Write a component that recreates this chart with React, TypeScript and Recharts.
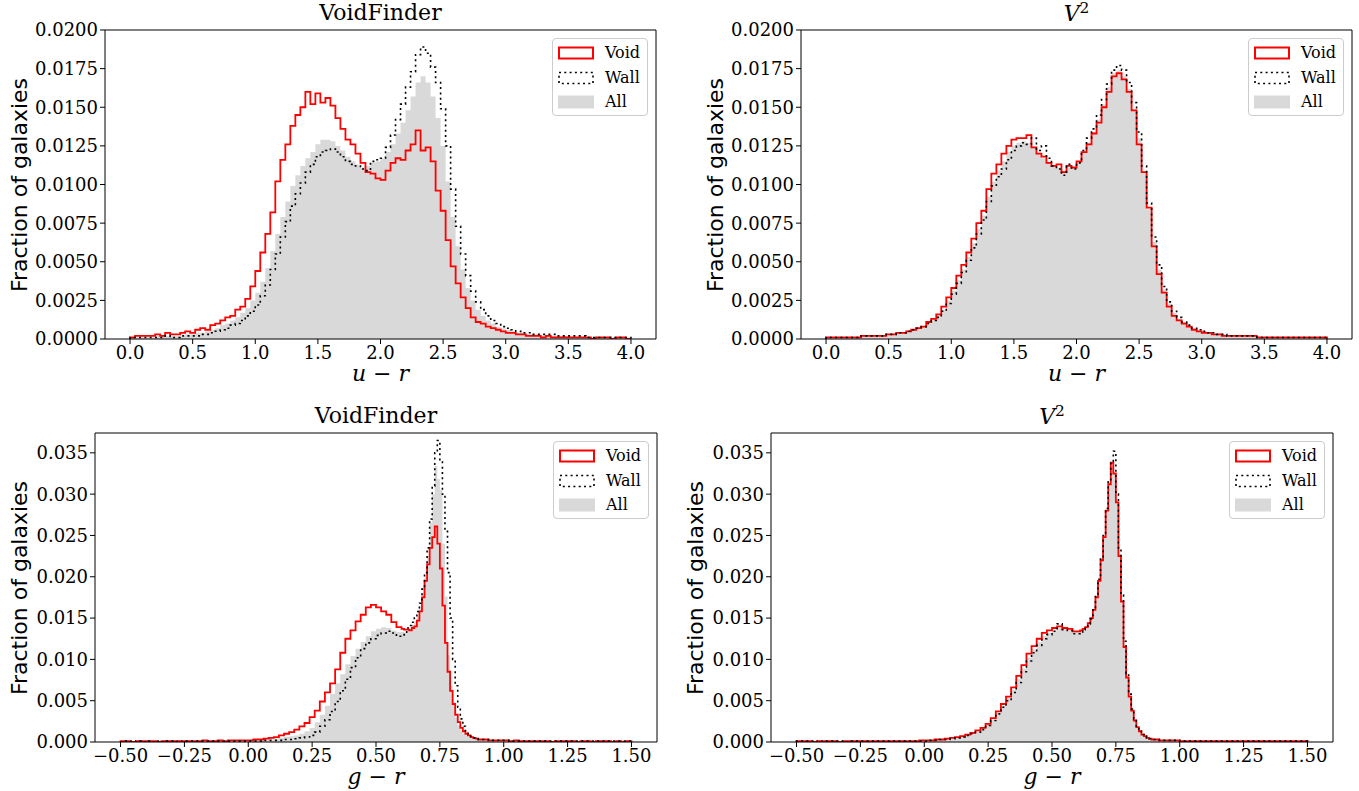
import React from 'react';
import { ComposedChart, Area, Line, XAxis, YAxis, ReferenceLine } from 'recharts';

// ---------- bins ----------
// u - r : uniform bins
const UR_BIN_START = 0;
const UR_BIN_WIDTH = 0.04;
const UR_BIN_COUNT = 100;
// g - r : finer bins around the red-sequence peak
const GR_BIN_SEGMENTS = [
  { start: -0.5, width: 0.02, count: 55 },
  { start: 0.6, width: 0.01, count: 30 },
  { start: 0.9, width: 0.02, count: 30 },
];

// ---------- tick labels ----------
const urTicks = [0, 0.5, 1, 1.5, 2, 2.5, 3, 3.5, 4];
const grTicks = [-0.5, -0.25, 0, 0.25, 0.5, 0.75, 1, 1.25, 1.5];
const yTicksUR = [0, 0.0025, 0.005, 0.0075, 0.01, 0.0125, 0.015, 0.0175, 0.02];
const yTicksGR = [0, 0.005, 0.01, 0.015, 0.02, 0.025, 0.03, 0.035];

// ---------- VoidFinder, u - r ----------
const vfUrVoid = [
  0.0001, 0.0002, 0.0002, 0.0002, 0.0002, 0.0003, 0.0002, 0.0004, 0.0003, 0.0003,
  0.0004, 0.0005, 0.0004, 0.0006, 0.0007, 0.0006, 0.0009, 0.0010, 0.0012, 0.0014,
  0.0015, 0.0019, 0.0021, 0.0026, 0.0034, 0.0044, 0.0056, 0.0068, 0.0082, 0.0102,
  0.0116, 0.0126, 0.0138, 0.0145, 0.0150, 0.0160, 0.0152, 0.0159, 0.0153, 0.0156,
  0.0151, 0.0143, 0.0136, 0.0129, 0.0126, 0.0120, 0.0114, 0.0108, 0.0107, 0.0104,
  0.0103, 0.0109, 0.0114, 0.0117, 0.0116, 0.0122, 0.0126, 0.0135, 0.0122, 0.0124,
  0.0115, 0.0096, 0.0083, 0.0064, 0.0047, 0.0036, 0.0027, 0.0020, 0.0014, 0.0011,
  0.0010, 0.0008, 0.0007, 0.0006, 0.0005, 0.0004, 0.0004, 0.0003, 0.0003, 0.0002,
  0.0002, 0.0002, 0.0001, 0.0002, 0.0001, 0.0001, 0.0001, 0.0001, 0.0001, 0.0001,
  0.0001, 0.0001, 0.0000, 0.0001, 0.0001, 0.0001, 0.0000, 0.0001, 0.0001, 0.0000,
];
const vfUrWall = [
  0.0001, 0.0001, 0.0001, 0.0001, 0.0001, 0.0001, 0.0001, 0.0002, 0.0001, 0.0001,
  0.0002, 0.0002, 0.0002, 0.0002, 0.0003, 0.0003, 0.0004, 0.0005, 0.0006, 0.0007,
  0.0009, 0.0010, 0.0012, 0.0015, 0.0018, 0.0022, 0.0028, 0.0035, 0.0045, 0.0055,
  0.0066, 0.0076, 0.0086, 0.0094, 0.0101, 0.0108, 0.0113, 0.0118, 0.0121, 0.0122,
  0.0123, 0.0121, 0.0118, 0.0115, 0.0113, 0.0112, 0.0110, 0.0109, 0.0115, 0.0116,
  0.0117, 0.0124, 0.0132, 0.0142, 0.0152, 0.0163, 0.0173, 0.0184, 0.0189, 0.0185,
  0.0176, 0.0166, 0.0149, 0.0125, 0.0097, 0.0073, 0.0055, 0.0041, 0.0031, 0.0024,
  0.0019, 0.0015, 0.0012, 0.0010, 0.0008, 0.0007, 0.0006, 0.0005, 0.0004, 0.0004,
  0.0003, 0.0003, 0.0003, 0.0003, 0.0003, 0.0002, 0.0002, 0.0002, 0.0002, 0.0002,
  0.0002, 0.0001, 0.0001, 0.0001, 0.0001, 0.0001, 0.0001, 0.0001, 0.0001, 0.0001,
];
const vfUrAll = [
  0.0001, 0.0001, 0.0001, 0.0001, 0.0001, 0.0002, 0.0002, 0.0002, 0.0002, 0.0002,
  0.0002, 0.0003, 0.0003, 0.0004, 0.0004, 0.0005, 0.0006, 0.0007, 0.0009, 0.0010,
  0.0012, 0.0014, 0.0017, 0.0020, 0.0025, 0.0030, 0.0037, 0.0046, 0.0057, 0.0068,
  0.0079, 0.0089, 0.0099, 0.0106, 0.0112, 0.0117, 0.0121, 0.0126, 0.0129, 0.0129,
  0.0128, 0.0125, 0.0122, 0.0118, 0.0115, 0.0113, 0.0111, 0.0112, 0.0114, 0.0115,
  0.0117, 0.0121, 0.0126, 0.0133, 0.0140, 0.0148, 0.0157, 0.0166, 0.0170, 0.0166,
  0.0157, 0.0143, 0.0125, 0.0102, 0.0079, 0.0060, 0.0045, 0.0033, 0.0025, 0.0019,
  0.0015, 0.0012, 0.0010, 0.0008, 0.0007, 0.0006, 0.0005, 0.0004, 0.0004, 0.0003,
  0.0003, 0.0003, 0.0002, 0.0002, 0.0002, 0.0002, 0.0002, 0.0002, 0.0001, 0.0001,
  0.0001, 0.0001, 0.0001, 0.0001, 0.0001, 0.0001, 0.0001, 0.0001, 0.0001, 0.0001,
];

// ---------- V^2, u - r ----------
const v2UrVoid = [
  0.0001, 0.0001, 0.0001, 0.0001, 0.0001, 0.0001, 0.0001, 0.0002, 0.0002, 0.0002,
  0.0002, 0.0002, 0.0003, 0.0003, 0.0004, 0.0004, 0.0005, 0.0006, 0.0007, 0.0008,
  0.0011, 0.0013, 0.0016, 0.0021, 0.0027, 0.0033, 0.0041, 0.0048, 0.0056, 0.0065,
  0.0075, 0.0083, 0.0097, 0.0107, 0.0113, 0.0120, 0.0125, 0.0129, 0.0130, 0.0130,
  0.0132, 0.0124, 0.0120, 0.0118, 0.0114, 0.0112, 0.0113, 0.0108, 0.0112, 0.0111,
  0.0115, 0.0121, 0.0126, 0.0133, 0.0140, 0.0150, 0.0160, 0.0170, 0.0172, 0.0168,
  0.0160, 0.0148, 0.0126, 0.0108, 0.0085, 0.0060, 0.0042, 0.0030, 0.0021, 0.0015,
  0.0012, 0.0010, 0.0008, 0.0006, 0.0005, 0.0004, 0.0004, 0.0003, 0.0003, 0.0002,
  0.0002, 0.0002, 0.0002, 0.0002, 0.0002, 0.0002, 0.0001, 0.0001, 0.0001, 0.0001,
  0.0001, 0.0001, 0.0001, 0.0001, 0.0001, 0.0001, 0.0001, 0.0001, 0.0001, 0.0001,
];
const v2UrWall = [
  0.0001, 0.0001, 0.0001, 0.0001, 0.0001, 0.0001, 0.0001, 0.0002, 0.0002, 0.0002,
  0.0002, 0.0002, 0.0003, 0.0003, 0.0004, 0.0004, 0.0005, 0.0006, 0.0007, 0.0008,
  0.0010, 0.0012, 0.0014, 0.0018, 0.0023, 0.0029, 0.0036, 0.0043, 0.0051, 0.0059,
  0.0068, 0.0077, 0.0089, 0.0099, 0.0105, 0.0110, 0.0116, 0.0122, 0.0125, 0.0127,
  0.0126, 0.0130, 0.0122, 0.0125, 0.0117, 0.0112, 0.0110, 0.0106, 0.0113, 0.0110,
  0.0114, 0.0122, 0.0130, 0.0136, 0.0145, 0.0155, 0.0165, 0.0174, 0.0177, 0.0174,
  0.0166, 0.0153, 0.0134, 0.0112, 0.0088, 0.0066, 0.0048, 0.0034, 0.0024, 0.0018,
  0.0014, 0.0011, 0.0009, 0.0007, 0.0006, 0.0005, 0.0004, 0.0004, 0.0003, 0.0003,
  0.0002, 0.0002, 0.0002, 0.0002, 0.0002, 0.0002, 0.0001, 0.0001, 0.0001, 0.0001,
  0.0001, 0.0001, 0.0001, 0.0001, 0.0001, 0.0001, 0.0001, 0.0001, 0.0001, 0.0001,
];
const v2UrAll = [
  0.0001, 0.0001, 0.0001, 0.0001, 0.0001, 0.0001, 0.0001, 0.0002, 0.0002, 0.0002,
  0.0002, 0.0002, 0.0003, 0.0003, 0.0004, 0.0004, 0.0005, 0.0006, 0.0007, 0.0008,
  0.0010, 0.0012, 0.0015, 0.0019, 0.0025, 0.0031, 0.0038, 0.0045, 0.0053, 0.0062,
  0.0071, 0.0080, 0.0092, 0.0102, 0.0109, 0.0115, 0.0121, 0.0125, 0.0127, 0.0128,
  0.0127, 0.0124, 0.0120, 0.0117, 0.0114, 0.0112, 0.0111, 0.0109, 0.0111, 0.0111,
  0.0114, 0.0121, 0.0127, 0.0134, 0.0142, 0.0152, 0.0163, 0.0172, 0.0174, 0.0170,
  0.0162, 0.0149, 0.0130, 0.0108, 0.0084, 0.0063, 0.0045, 0.0032, 0.0023, 0.0017,
  0.0013, 0.0011, 0.0008, 0.0007, 0.0005, 0.0005, 0.0004, 0.0003, 0.0003, 0.0003,
  0.0002, 0.0002, 0.0002, 0.0002, 0.0002, 0.0002, 0.0001, 0.0001, 0.0001, 0.0001,
  0.0001, 0.0001, 0.0001, 0.0001, 0.0001, 0.0001, 0.0001, 0.0001, 0.0001, 0.0001,
];

// ---------- VoidFinder, g - r (55 coarse + 30 fine + 30 coarse bins) ----------
const vfGrVoid = [
  0.0001, 0.0001, 0.0000, 0.0001, 0.0001, 0.0001, 0.0001, 0.0000, 0.0001, 0.0001,
  0.0001, 0.0001, 0.0001, 0.0001, 0.0001, 0.0001, 0.0002, 0.0001, 0.0001, 0.0002,
  0.0001, 0.0002, 0.0002, 0.0002, 0.0002, 0.0002, 0.0003, 0.0003, 0.0004, 0.0005,
  0.0006, 0.0008, 0.0010, 0.0012, 0.0015, 0.0019, 0.0023, 0.0030, 0.0038, 0.0049,
  0.0060, 0.0071, 0.0088, 0.0108, 0.0125, 0.0135, 0.0146, 0.0154, 0.0163, 0.0166,
  0.0163, 0.0158, 0.0154, 0.0145, 0.0139,
  0.0137, 0.0136, 0.0136, 0.0135, 0.0138, 0.0140, 0.0147, 0.0158, 0.0175, 0.0195,
  0.0215, 0.0235, 0.0248, 0.0261, 0.0240, 0.0210, 0.0165, 0.0120, 0.0085, 0.0062,
  0.0046, 0.0033, 0.0024, 0.0017, 0.0013, 0.0010, 0.0008, 0.0006, 0.0005, 0.0004,
  0.0003, 0.0003, 0.0002, 0.0002, 0.0002, 0.0002, 0.0001, 0.0002, 0.0001, 0.0001,
  0.0001, 0.0001, 0.0001, 0.0001, 0.0000, 0.0001, 0.0001, 0.0001, 0.0001, 0.0000,
  0.0001, 0.0001, 0.0000, 0.0001, 0.0001, 0.0001, 0.0000, 0.0001, 0.0000, 0.0001,
];
const vfGrWall = [
  0.0000, 0.0001, 0.0000, 0.0001, 0.0000, 0.0001, 0.0000, 0.0001, 0.0000, 0.0001,
  0.0001, 0.0000, 0.0001, 0.0001, 0.0001, 0.0001, 0.0001, 0.0001, 0.0001, 0.0001,
  0.0001, 0.0001, 0.0001, 0.0001, 0.0001, 0.0001, 0.0001, 0.0001, 0.0002, 0.0002,
  0.0002, 0.0002, 0.0003, 0.0003, 0.0004, 0.0005, 0.0006, 0.0008, 0.0012, 0.0019,
  0.0027, 0.0037, 0.0049, 0.0062, 0.0076, 0.0090, 0.0102, 0.0113, 0.0120, 0.0125,
  0.0129, 0.0132, 0.0134, 0.0132, 0.0128,
  0.0128, 0.0130, 0.0138, 0.0141, 0.0145, 0.0150, 0.0158, 0.0168, 0.0185, 0.0205,
  0.0235, 0.0270, 0.0310, 0.0350, 0.0365, 0.0340, 0.0300, 0.0255, 0.0205, 0.0150,
  0.0100, 0.0068, 0.0042, 0.0028, 0.0019, 0.0013, 0.0009, 0.0007, 0.0005, 0.0004,
  0.0003, 0.0003, 0.0002, 0.0002, 0.0002, 0.0002, 0.0001, 0.0001, 0.0001, 0.0001,
  0.0001, 0.0001, 0.0001, 0.0001, 0.0001, 0.0001, 0.0001, 0.0001, 0.0001, 0.0001,
  0.0001, 0.0001, 0.0001, 0.0001, 0.0001, 0.0001, 0.0001, 0.0001, 0.0001, 0.0001,
];
const vfGrAll = [
  0.0001, 0.0000, 0.0001, 0.0000, 0.0001, 0.0001, 0.0000, 0.0001, 0.0001, 0.0001,
  0.0001, 0.0001, 0.0001, 0.0001, 0.0001, 0.0001, 0.0001, 0.0001, 0.0001, 0.0001,
  0.0001, 0.0001, 0.0001, 0.0001, 0.0001, 0.0001, 0.0002, 0.0002, 0.0003, 0.0003,
  0.0004, 0.0005, 0.0006, 0.0007, 0.0008, 0.0010, 0.0013, 0.0017, 0.0024, 0.0033,
  0.0044, 0.0058, 0.0071, 0.0082, 0.0094, 0.0104, 0.0113, 0.0121, 0.0128, 0.0134,
  0.0137, 0.0139, 0.0138, 0.0135, 0.0133,
  0.0133, 0.0132, 0.0134, 0.0137, 0.0141, 0.0146, 0.0152, 0.0162, 0.0180, 0.0200,
  0.0225, 0.0265, 0.0300, 0.0334, 0.0318, 0.0305, 0.0240, 0.0176, 0.0105, 0.0068,
  0.0045, 0.0030, 0.0020, 0.0014, 0.0010, 0.0008, 0.0006, 0.0005, 0.0004, 0.0003,
  0.0003, 0.0003, 0.0002, 0.0002, 0.0002, 0.0001, 0.0001, 0.0001, 0.0001, 0.0001,
  0.0001, 0.0001, 0.0001, 0.0001, 0.0001, 0.0001, 0.0001, 0.0001, 0.0001, 0.0001,
  0.0001, 0.0000, 0.0001, 0.0001, 0.0000, 0.0001, 0.0001, 0.0000, 0.0001, 0.0000,
];

// ---------- V^2, g - r (55 coarse + 30 fine + 30 coarse bins) ----------
const v2GrVoid = [
  0.0001, 0.0001, 0.0001, 0.0000, 0.0001, 0.0001, 0.0001, 0.0001, 0.0000, 0.0001,
  0.0001, 0.0001, 0.0001, 0.0001, 0.0001, 0.0001, 0.0001, 0.0001, 0.0001, 0.0001,
  0.0001, 0.0001, 0.0001, 0.0001, 0.0002, 0.0002, 0.0002, 0.0003, 0.0003, 0.0004,
  0.0005, 0.0006, 0.0007, 0.0009, 0.0011, 0.0014, 0.0017, 0.0022, 0.0029, 0.0037,
  0.0046, 0.0055, 0.0066, 0.0080, 0.0093, 0.0107, 0.0116, 0.0125, 0.0132, 0.0135,
  0.0138, 0.0140, 0.0138, 0.0137, 0.0134,
  0.0134, 0.0135, 0.0137, 0.0139, 0.0144, 0.0150, 0.0160, 0.0175, 0.0195, 0.0220,
  0.0248, 0.0280, 0.0312, 0.0338, 0.0325, 0.0290, 0.0225, 0.0170, 0.0115, 0.0078,
  0.0055, 0.0038, 0.0026, 0.0018, 0.0013, 0.0009, 0.0007, 0.0005, 0.0004, 0.0003,
  0.0003, 0.0002, 0.0002, 0.0002, 0.0002, 0.0001, 0.0001, 0.0001, 0.0001, 0.0001,
  0.0001, 0.0001, 0.0001, 0.0001, 0.0001, 0.0001, 0.0001, 0.0001, 0.0001, 0.0001,
  0.0001, 0.0001, 0.0001, 0.0001, 0.0001, 0.0001, 0.0001, 0.0001, 0.0001, 0.0001,
];
const v2GrWall = [
  0.0001, 0.0001, 0.0001, 0.0001, 0.0000, 0.0001, 0.0001, 0.0001, 0.0001, 0.0000,
  0.0001, 0.0001, 0.0001, 0.0001, 0.0001, 0.0001, 0.0001, 0.0001, 0.0001, 0.0001,
  0.0001, 0.0001, 0.0001, 0.0001, 0.0001, 0.0001, 0.0002, 0.0002, 0.0003, 0.0003,
  0.0004, 0.0005, 0.0006, 0.0008, 0.0010, 0.0012, 0.0015, 0.0020, 0.0026, 0.0034,
  0.0042, 0.0050, 0.0060, 0.0072, 0.0085, 0.0098, 0.0108, 0.0117, 0.0125, 0.0130,
  0.0134, 0.0143, 0.0136, 0.0135, 0.0131,
  0.0131, 0.0133, 0.0136, 0.0138, 0.0143, 0.0149, 0.0160, 0.0176, 0.0197, 0.0223,
  0.0250, 0.0283, 0.0315, 0.0340, 0.0352, 0.0300, 0.0235, 0.0178, 0.0122, 0.0083,
  0.0058, 0.0040, 0.0028, 0.0019, 0.0013, 0.0009, 0.0007, 0.0005, 0.0004, 0.0003,
  0.0003, 0.0002, 0.0002, 0.0002, 0.0002, 0.0001, 0.0001, 0.0001, 0.0001, 0.0001,
  0.0001, 0.0001, 0.0001, 0.0001, 0.0001, 0.0001, 0.0001, 0.0001, 0.0001, 0.0001,
  0.0001, 0.0001, 0.0001, 0.0001, 0.0001, 0.0001, 0.0001, 0.0001, 0.0001, 0.0001,
];
const v2GrAll = [
  0.0001, 0.0001, 0.0001, 0.0001, 0.0001, 0.0001, 0.0001, 0.0001, 0.0001, 0.0001,
  0.0001, 0.0001, 0.0001, 0.0001, 0.0001, 0.0001, 0.0001, 0.0001, 0.0001, 0.0001,
  0.0001, 0.0001, 0.0001, 0.0001, 0.0001, 0.0002, 0.0002, 0.0003, 0.0003, 0.0004,
  0.0005, 0.0006, 0.0007, 0.0009, 0.0011, 0.0013, 0.0016, 0.0021, 0.0027, 0.0035,
  0.0044, 0.0053, 0.0063, 0.0076, 0.0089, 0.0102, 0.0112, 0.0121, 0.0128, 0.0132,
  0.0135, 0.0138, 0.0137, 0.0136, 0.0133,
  0.0133, 0.0134, 0.0136, 0.0138, 0.0143, 0.0149, 0.0159, 0.0174, 0.0195, 0.0220,
  0.0248, 0.0280, 0.0310, 0.0333, 0.0325, 0.0292, 0.0228, 0.0172, 0.0117, 0.0080,
  0.0056, 0.0039, 0.0027, 0.0018, 0.0013, 0.0009, 0.0007, 0.0005, 0.0004, 0.0003,
  0.0003, 0.0002, 0.0002, 0.0002, 0.0002, 0.0001, 0.0001, 0.0001, 0.0001, 0.0001,
  0.0001, 0.0001, 0.0001, 0.0001, 0.0001, 0.0001, 0.0001, 0.0001, 0.0001, 0.0001,
  0.0001, 0.0001, 0.0001, 0.0001, 0.0001, 0.0001, 0.0001, 0.0001, 0.0001, 0.0001,
];

// ---------- helpers ----------
type Row = { x: number; allV: number; voidV: number; wallV: number };

function edgesFromSegments(segs: { start: number; width: number; count: number }[]): number[] {
  const edges: number[] = [];
  segs.forEach((s, si) => {
    for (let i = 0; i < s.count; i++) edges.push(+(s.start + i * s.width).toFixed(4));
    if (si === segs.length - 1) edges.push(+(s.start + s.count * s.width).toFixed(4));
  });
  return edges;
}

const UR_EDGES = edgesFromSegments([{ start: UR_BIN_START, width: UR_BIN_WIDTH, count: UR_BIN_COUNT }]);
const GR_EDGES = edgesFromSegments(GR_BIN_SEGMENTS);

function buildRows(edges: number[], all: number[], vd: number[], wl: number[]): Row[] {
  const n = all.length;
  const rows: Row[] = [{ x: edges[0], allV: 0, voidV: 0, wallV: 0 }];
  for (let i = 0; i < n; i++) {
    rows.push({ x: edges[i], allV: all[i], voidV: vd[i], wallV: wl[i] });
  }
  rows.push({ x: edges[n], allV: all[n - 1], voidV: vd[n - 1], wallV: wl[n - 1] });
  rows.push({ x: edges[n], allV: 0, voidV: 0, wallV: 0 });
  return rows;
}

const SERIF = "'DejaVu Serif', 'Liberation Serif', serif";
const SANS = "'DejaVu Sans', 'Liberation Sans', sans-serif";
const minus = (s: string) => s.replace('-', '\u2212');

type PanelProps = {
  frameLeft: number;
  frameTop: number;
  frameW: number;
  frameH: number;
  rows: Row[];
  xDomain: [number, number];
  yDomain: [number, number];
  xTicks: number[];
  yTicks: number[];
  xFmt: (v: number) => string;
  yFmt: (v: number) => string;
  title: React.ReactNode;
  xLabel: React.ReactNode;
  yLabelCx: number;
};

const YW = 80;
const XH = 30;
const PADT = 14;
const PADR = 3;

function Legend({ left, top }: { left: number; top: number }) {
  const items = [
    { label: 'Void', kind: 'void' },
    { label: 'Wall', kind: 'wall' },
    { label: 'All', kind: 'all' },
  ];
  return (
    <div
      style={{
        position: 'absolute',
        left,
        top,
        width: 96,
        height: 78,
        boxSizing: 'border-box',
        border: '1px solid #cccccc',
        borderRadius: 4,
        background: 'rgba(255,255,255,0.8)',
      }}
    >
      {items.map((it, i) => (
        <div key={it.label} style={{ position: 'absolute', left: 0, top: 2 + i * 24.5, height: 24, width: 96 }}>
          <svg width={40} height={24} style={{ position: 'absolute', left: 5, top: 0 }}>
            {it.kind === 'void' && (
              <rect x={1} y={6.5} width={34} height={11} fill="none" stroke="#ff0000" strokeWidth={2} />
            )}
            {it.kind === 'wall' && (
              <rect x={1} y={6.5} width={34} height={11} fill="none" stroke="#000" strokeWidth={1.6} strokeDasharray="2 3.3" />
            )}
            {it.kind === 'all' && <rect x={0} y={5.5} width={36} height={13} fill="#d9d9d9" />}
          </svg>
          <span
            style={{
              position: 'absolute',
              left: 52,
              top: 0,
              lineHeight: '24px',
              fontFamily: SERIF,
              fontSize: 16,
              color: '#000',
            }}
          >
            {it.label}
          </span>
        </div>
      ))}
    </div>
  );
}

function Panel(p: PanelProps) {
  const cw = YW + p.frameW + PADR;
  const ch = PADT + p.frameH + XH;
  return (
    <>
      <div style={{ position: 'absolute', left: p.frameLeft - YW, top: p.frameTop - PADT }}>
        <ComposedChart
          width={cw}
          height={ch}
          data={p.rows}
          margin={{ top: PADT, right: PADR, bottom: 0, left: 0 }}
        >
          <XAxis
            dataKey="x"
            type="number"
            domain={p.xDomain}
            ticks={p.xTicks}
            interval={0}
            allowDataOverflow
            tickFormatter={p.xFmt}
            height={XH}
            tickSize={5}
            tickMargin={2}
            tick={{ fontFamily: SERIF, fontSize: 18, fill: '#000' }}
            axisLine={{ stroke: '#000', strokeWidth: 1 }}
            tickLine={{ stroke: '#000', strokeWidth: 1 }}
          />
          <YAxis
            type="number"
            domain={p.yDomain}
            ticks={p.yTicks}
            interval={0}
            allowDataOverflow
            tickFormatter={p.yFmt}
            width={YW}
            tickSize={5}
            tickMargin={2}
            tick={{ fontFamily: SERIF, fontSize: 18, fill: '#000' }}
            axisLine={{ stroke: '#000', strokeWidth: 1 }}
            tickLine={{ stroke: '#000', strokeWidth: 1 }}
          />
          <Area
            dataKey="allV"
            type="stepAfter"
            fill="#d9d9d9"
            fillOpacity={1}
            stroke="none"
            dot={false}
            activeDot={false}
            isAnimationActive={false}
          />
          <Line
            dataKey="voidV"
            type="stepAfter"
            stroke="#ff0000"
            strokeWidth={1.8}
            dot={false}
            activeDot={false}
            isAnimationActive={false}
          />
          <Line
            dataKey="wallV"
            type="stepAfter"
            stroke="#000"
            strokeWidth={1.6}
            strokeDasharray="2 3.3"
            dot={false}
            activeDot={false}
            isAnimationActive={false}
          />
          <ReferenceLine y={p.yDomain[1]} stroke="#000" strokeWidth={1} />
          <ReferenceLine x={p.xDomain[1]} stroke="#000" strokeWidth={1} />
        </ComposedChart>
      </div>
      {/* title */}
      <div
        style={{
          position: 'absolute',
          left: p.frameLeft,
          width: p.frameW,
          top: p.frameTop - 30,
          height: 26,
          lineHeight: '26px',
          textAlign: 'center',
          fontFamily: SERIF,
          fontSize: 22,
          color: '#000',
          whiteSpace: 'nowrap',
        }}
      >
        {p.title}
      </div>
      {/* x label */}
      <div
        style={{
          position: 'absolute',
          left: p.frameLeft,
          width: p.frameW,
          top: p.frameTop + p.frameH + 22,
          height: 26,
          lineHeight: '26px',
          textAlign: 'center',
          fontFamily: SERIF,
          fontSize: 22,
          color: '#000',
          whiteSpace: 'nowrap',
        }}
      >
        {p.xLabel}
      </div>
      {/* y label */}
      <div
        style={{
          position: 'absolute',
          left: p.yLabelCx - p.frameH / 2,
          top: p.frameTop + p.frameH / 2 - 13,
          width: p.frameH,
          height: 26,
          lineHeight: '26px',
          textAlign: 'center',
          fontFamily: SANS,
          fontSize: 22,
          color: '#000',
          whiteSpace: 'nowrap',
          transform: 'rotate(-90deg)',
          transformOrigin: 'center center',
        }}
      >
        Fraction of galaxies
      </div>
      <Legend left={p.frameLeft + p.frameW - 104} top={p.frameTop + 8} />
    </>
  );
}

const urFmt = (v: number) => v.toFixed(1);
const grFmt = (v: number) => minus(v.toFixed(2));
const yUrFmt = (v: number) => v.toFixed(4);
const yGrFmt = (v: number) => v.toFixed(3);

const ur = (
  <span>
    <i>u</i> {'\u2212'} <i>r</i>
  </span>
);
const gr = (
  <span>
    <i>g</i> {'\u2212'} <i>r</i>
  </span>
);
const v2Title = (
  <span style={{ position: 'relative', top: 1 }}>
    <i>V</i>
    <span style={{ fontSize: '0.7em', position: 'relative', top: '-0.5em' }}>2</span>
  </span>
);

export default function App() {
  const rows1 = buildRows(UR_EDGES, vfUrAll, vfUrVoid, vfUrWall);
  const rows2 = buildRows(UR_EDGES, v2UrAll, v2UrVoid, v2UrWall);
  const rows3 = buildRows(GR_EDGES, vfGrAll, vfGrVoid, vfGrWall);
  const rows4 = buildRows(GR_EDGES, v2GrAll, v2GrVoid, v2GrWall);
  return (
    <div style={{ position: 'absolute', left: 0, top: 0, width: 1359, height: 791, background: '#fff', overflow: 'hidden' }}>
      <Panel
        frameLeft={105}
        frameTop={30}
        frameW={551}
        frameH={309}
        rows={rows1}
        xDomain={[-0.2, 4.2]}
        yDomain={[0, 0.02]}
        xTicks={urTicks}
        yTicks={yTicksUR}
        xFmt={urFmt}
        yFmt={yUrFmt}
        title="VoidFinder"
        xLabel={ur}
        yLabelCx={19}
      />
      <Panel
        frameLeft={801}
        frameTop={30}
        frameW={551}
        frameH={309}
        rows={rows2}
        xDomain={[-0.2, 4.2]}
        yDomain={[0, 0.02]}
        xTicks={urTicks}
        yTicks={yTicksUR}
        xFmt={urFmt}
        yFmt={yUrFmt}
        title={v2Title}
        xLabel={ur}
        yLabelCx={715}
      />
      <Panel
        frameLeft={95}
        frameTop={433}
        frameW={562}
        frameH={309}
        rows={rows3}
        xDomain={[-0.6, 1.6]}
        yDomain={[0, 0.0374]}
        xTicks={grTicks}
        yTicks={yTicksGR}
        xFmt={grFmt}
        yFmt={yGrFmt}
        title="VoidFinder"
        xLabel={gr}
        yLabelCx={19}
      />
      <Panel
        frameLeft={771}
        frameTop={433}
        frameW={562}
        frameH={309}
        rows={rows4}
        xDomain={[-0.6, 1.6]}
        yDomain={[0, 0.0374]}
        xTicks={grTicks}
        yTicks={yTicksGR}
        xFmt={grFmt}
        yFmt={yGrFmt}
        title={v2Title}
        xLabel={gr}
        yLabelCx={695}
      />
    </div>
  );
}
